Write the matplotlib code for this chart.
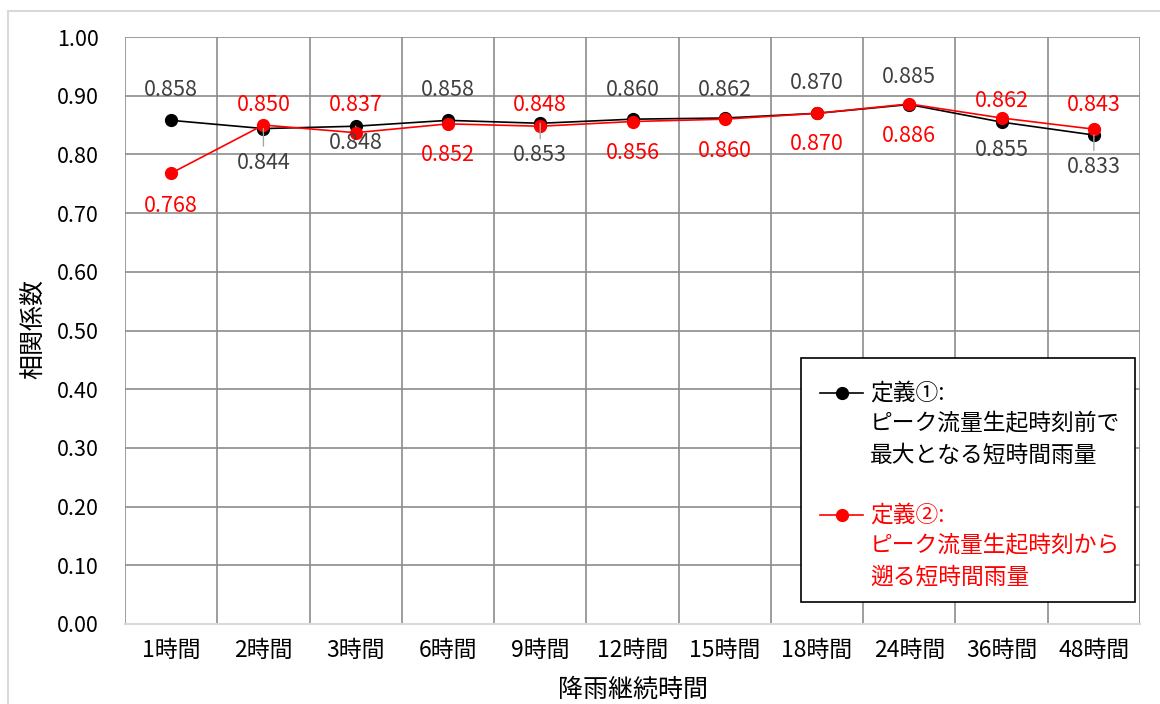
import matplotlib.pyplot as plt
from matplotlib.patches import Rectangle
from matplotlib.lines import Line2D
import numpy as np

plt.rcParams['font.family'] = ['Noto Sans CJK JP', 'DejaVu Sans']

# data
hours = ['1時間', '2時間', '3時間', '6時間', '9時間', '12時間', '15時間', '18時間', '24時間', '36時間', '48時間']
def1 = [0.858, 0.844, 0.848, 0.858, 0.853, 0.860, 0.862, 0.870, 0.885, 0.855, 0.833]
def2 = [0.768, 0.850, 0.837, 0.852, 0.848, 0.856, 0.860, 0.870, 0.886, 0.862, 0.843]

# label offsets in pixels (positive = down)
off1 = [-30, 34, 17, -30, 32, -29, -28, -30, -28, 28, 32]
off2 = [33, -20, -28, 31, -21, 31, 32, 31, 32, -17, -24]
lead1 = [False, True, True, False, True, False, False, False, False, False, True]

W, H = 1160, 704
fig = plt.figure(figsize=(W / 100, H / 100), dpi=100)
ax = fig.add_axes([125 / W, 1 - 624 / H, 1015 / W, 587 / H])

def fx(p):
    return p / W

def fy(p):
    return 1 - p / H

# outer chart frame
fig.patches.append(Rectangle((fx(8), fy(1000)), 2, fy(11) - fy(1000), transform=fig.transFigure,
                             fill=False, edgecolor='#d9d9d9', lw=1.5))

x = np.arange(len(hours))
ax.plot(x, def1, color='black', lw=1.2, marker='o', ms=8.5, zorder=3)
ax.plot(x, def2, color='red', lw=1.2, marker='o', ms=8.5, zorder=4)

for i in range(len(x)):
    ap = None
    if lead1[i]:
        ap = dict(arrowstyle='-', color='#a6a6a6', lw=1, shrinkA=2, shrinkB=0)
    ax.annotate(f'{def1[i]:.3f}', (x[i], def1[i]), xytext=(0, -off1[i]), textcoords='offset pixels',
                ha='center', va='center', fontsize=15.5, color='#404040', arrowprops=ap, zorder=5)
    ax.annotate(f'{def2[i]:.3f}', (x[i], def2[i]), xytext=(0, -off2[i]), textcoords='offset pixels',
                ha='center', va='center', fontsize=15.5, color='red', zorder=5)

ax.set_xlim(-0.5, len(hours) - 0.5)
ax.set_ylim(0, 1.0)
ax.set_yticks(np.arange(0, 1.01, 0.1))
ax.set_yticklabels([f'{v:.2f}' for v in np.arange(0, 1.01, 0.1)])
ax.set_xticks(x)
ax.set_xticklabels(hours)
ax.set_xticks(np.arange(-0.5, len(hours), 1), minor=True)
ax.grid(True, axis='y', which='major', color='#8c8c8c', lw=1.2)
ax.grid(True, axis='x', which='minor', color='#8c8c8c', lw=1.2)
ax.tick_params(axis='both', which='both', length=0)
ax.tick_params(axis='y', pad=19, labelsize=15.5)
ax.tick_params(axis='x', pad=11, labelsize=16.5)
for s in ['left', 'top', 'right']:
    ax.spines[s].set_visible(False)
ax.spines['bottom'].set_color('#d9d9d9')
ax.spines['bottom'].set_linewidth(1.5)
ax.set_axisbelow(True)

fig.text(fx(33), fy(329), '相関係数', rotation=90, ha='center', va='center', fontsize=18)
fig.text(fx(633), fy(690), '降雨継続時間', ha='center', va='center', fontsize=18)

# legend box
fig.patches.append(Rectangle((fx(801), fy(602)), fx(1135) - fx(801), fy(358) - fy(602),
                             transform=fig.transFigure, facecolor='white', edgecolor='black',
                             lw=1.2, zorder=6))
entries = [('black', 393, ['定義①:', 'ピーク流量生起時刻前で', '最大となる短時間雨量']),
           ('red', 515, ['定義②:', 'ピーク流量生起時刻から', '遡る短時間雨量'])]
for col, y0, lines in entries:
    fig.add_artist(Line2D([fx(820), fx(863)], [fy(y0), fy(y0)], transform=fig.transFigure,
                          color=col, lw=1.2, zorder=7))
    fig.add_artist(Line2D([fx(842)], [fy(y0)], transform=fig.transFigure, marker='o',
                          ms=8.5, color=col, zorder=7))
    for k, t in enumerate(lines):
        fig.text(fx(870), fy(y0 + 31 * k), t, ha='left', va='center', fontsize=16.4,
                 color=col, zorder=8)

fig.savefig('out.png', dpi=100)
